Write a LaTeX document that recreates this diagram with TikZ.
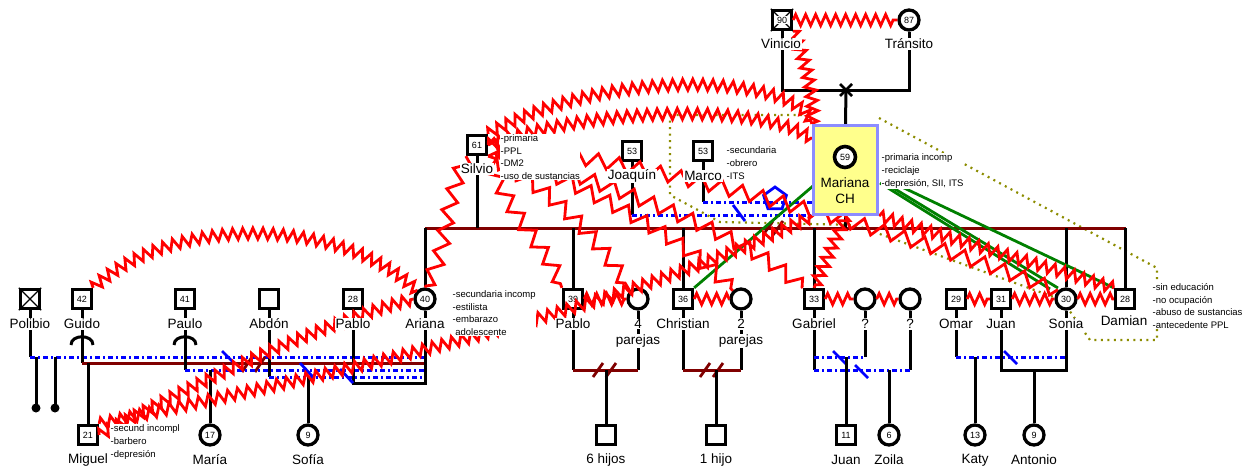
\documentclass[tikz,border=0pt]{standalone}
\usepackage{fontspec}
\setmainfont{Liberation Sans}
\usetikzlibrary{decorations.pathmorphing,shapes.geometric}
\definecolor{marL}{HTML}{800000}
\definecolor{yelF}{HTML}{FFFF8C}
\definecolor{lavB}{HTML}{8C8CFF}
\definecolor{oliD}{HTML}{8C8C00}
\definecolor{grnL}{HTML}{008000}
\pgfdeclarelayer{lines}\pgfdeclarelayer{zig}\pgfdeclarelayer{box}\pgfdeclarelayer{top}
\pgfsetlayers{lines,main,zig,box,top}
\begin{document}
\begin{tikzpicture}[x=1pt,y=-1pt,
  male/.style={draw,line width=3.3pt,minimum size=19pt,inner sep=0pt,fill=white,font=\fontsize{9}{9}\selectfont},
  female/.style={circle,draw,line width=3.3pt,minimum size=20pt,inner sep=0pt,fill=white,font=\fontsize{9}{9}\selectfont},
  lbl/.style={fill=white,inner sep=0.8pt,font=\fontsize{13.5}{14}\selectfont},
  note/.style={fill=white,inner sep=0.5pt,font=\fontsize{9.5}{12.7}\selectfont,align=left,anchor=west},
  fam/.style={line width=3pt},
  marl/.style={marL,line width=3pt},
  sepl/.style={blue,line width=3pt,dash pattern=on 5pt off 3pt on 2pt off 3pt},
  bslash/.style={blue,line width=2.8pt},
  mslash/.style={marL,line width=2.8pt},
  zz/.style={red,line width=2.8pt,decorate,decoration={zigzag,segment length=10pt,amplitude=5.5pt}},
  zw/.style={red,line width=2.8pt,decorate,decoration={zigzag,segment length=21pt,amplitude=7pt}},
  grn/.style={grnL,line width=2.8pt},
  hh/.style={oliD,line width=2.2pt,dash pattern=on 2pt off 4.5pt},
]
\useasboundingbox (0,0) rectangle (1259,472);
% ---------- persons ----------
\node[male] (vinicio) at (782,20) {};
\draw[line width=1.2pt] (vinicio.north west)--(vinicio.south east) (vinicio.north east)--(vinicio.south west);
\node[fill=white,inner sep=1pt,font=\fontsize{9}{9}\selectfont] (vinnum) at (vinicio) {90};
\node[female] (transito) at (909,20) {87};
\node[male] (silvio) at (477,145) {61};
\node[male] (joaquin) at (632,151) {53};
\node[male] (marco) at (703,151) {53};
\node[male] (polibio) at (30,299) {};
\draw[line width=1.2pt] (polibio.north west)--(polibio.south east) (polibio.north east)--(polibio.south west);
\node[male] (guido) at (82,299) {42};
\node[male] (paulo) at (185,299) {41};
\node[male] (abdon) at (269,299) {};
\node[male] (pablo28) at (353,299) {28};
\node[female] (ariana) at (425,299) {40};
\node[male] (pablo39) at (573,299) {39};
\node[female] (par4) at (638,299) {};
\node[male] (christian) at (683,299) {36};
\node[female] (par2) at (741,299) {};
\node[male] (gabriel) at (814,299) {33};
\node[female] (q1) at (865,299) {};
\node[female] (q2) at (910,299) {};
\node[male] (omar) at (956,299) {29};
\node[male] (juan31) at (1001,299) {31};
\node[female] (sonia) at (1066,299) {30};
\node[male] (damian) at (1125,299) {28};
\node[male] (miguel) at (88,435) {21};
\node[female] (maria) at (210,435) {17};
\node[female] (sofia) at (308,435) {9};
\node[male] (hijos6) at (606,435) {};
\node[male] (hijo1) at (716,435) {};
\node[male] (juan11) at (846,435) {11};
\node[female] (zoila) at (889,435) {6};
\node[female] (katy) at (975,435) {13};
\node[female] (antonio) at (1034,435) {9};
% ---------- Mariana box ----------
\begin{pgfonlayer}{box}
\node[draw=lavB,fill=yelF,line width=3.2pt,minimum width=64pt,minimum height=89pt] (mariana) at (845.5,170) {};
\node[female,minimum size=21pt,line width=3.6pt] (mar59) at (845,157) {59};
\node[font=\fontsize{13.5}{16}\selectfont,align=center] (marname) at (845,191) {Mariana\\CH};
\end{pgfonlayer}
% ---------- lines ----------
\begin{pgfonlayer}{lines}
\draw[hh] (670,115) -- (812,115) (879,118) -- (1157,268) -- (1157,340) -- (1090,340) -- (1062,300) -- (855,225) -- (720,222) -- (670,195) -- (670,115);
\coordinate (cross) at (846,90);
\draw[fam] (vinicio.south) |- (cross) -| (transito.south);
\draw[fam] (cross) -- (mariana.north);
\draw[line width=2.6pt] (840,84) -- (852,96) (840,96) -- (852,84);
% children line of Mariana
\coordinate (kl) at (425,228);
\coordinate (kr) at (1126,228);
\draw[marl] (kl) -- (kr);
\draw[fam] (ariana.north) -- (ariana.north |- kl);
\draw[fam] (silvio.south) -- (silvio.south |- kl);
\draw[fam] (pablo39.north) -- (pablo39.north |- kl);
\draw[fam] (christian.north) -- (christian.north |- kl);
\draw[fam] (gabriel.north) -- (gabriel.north |- kl);
\draw[fam] (mariana.south) -- (mariana.south |- kl);
\draw[fam] (sonia.north) -- (sonia.north |- kl);
\draw[fam] (damian.north) -- (damian.north |- kl);
\draw[mslash] (763,235) -- (773,221) (773,235) -- (783,221);
% partners Joaquin / Marco
\coordinate (jq) at (632,215);
\coordinate (mq) at (703,202);
\draw[fam] (joaquin.south) -- (jq);
\draw[fam] (marco.south) -- (mq);
\draw[sepl] (jq) -- (jq -| mariana.west);
\draw[sepl] (mq) -- (mq -| mariana.west);
\draw[bslash] (733,205) -- (745,221);
\node[regular polygon,regular polygon sides=5,draw=blue,line width=2.8pt,minimum size=24pt,inner sep=0pt] (penta) at (775,199) {};
% left group
\coordinate (lp) at (30,357);
\coordinate (lg) at (82,363);
\coordinate (lpa) at (185,370);
\coordinate (lab) at (269,377);
\coordinate (lpb) at (353,383);
\draw[fam] (polibio.south) -- (lp);
\draw[sepl] (lp) -- (lp -| ariana);
\coordinate (d1) at (36,408);
\coordinate (d2) at (55,408);
\draw[fam] (d1 |- lp) -- (d1);
\draw[fam] (d2 |- lp) -- (d2);
\fill (d1) circle (4.5pt) (d2) circle (4.5pt);
\draw[fam] (guido.south) -- (lg);
\draw[marl] (lg) -- (lg -| ariana);
\draw[fam] (miguel.north |- lg) -- (miguel.north);
\draw[mslash] (242,372) -- (252,357) (255,372) -- (265,357);
\draw[fam] (paulo.south) -- (lpa);
\draw[sepl] (lpa) -- (lpa -| ariana);
\draw[fam] (maria.north |- lpa) -- (maria.north);
\draw[fam] (abdon.south) -- (lab);
\draw[sepl] (lab) -- (lab -| ariana);
\draw[fam] (sofia.north |- lab) -- (sofia.north);
\draw[fam] (pablo28.south) -- (lpb) -| (ariana.south);
\draw[bslash] (222,351) -- (235,364) (300,363) -- (313,377) (340,369) -- (353,383);
\draw[fam] (71,345) .. controls (71,334) and (93,334) .. (93,345);
\draw[fam] (174,345) .. controls (174,334) and (196,334) .. (196,345);
% middle group
\coordinate (l39) at (573,370);
\coordinate (l36) at (683,370);
\draw[fam] (pablo39.south) -- (l39);
\draw[fam] (par4.south) -- (par4.south |- l39);
\draw[marl] (l39) -- (l39 -| par4);
\draw[mslash] (593,377) -- (603,363) (606,377) -- (616,363);
\draw[fam] (hijos6.north |- l39) -- (hijos6.north);
\draw[fam] (christian.south) -- (l36);
\draw[fam] (par2.south) -- (par2.south |- l36);
\draw[marl] (l36) -- (l36 -| par2);
\draw[mslash] (700,377) -- (710,363) (713,377) -- (723,363);
\draw[fam] (hijo1.north |- l36) -- (hijo1.north);
% right group
\coordinate (lga) at (814,357);
\coordinate (lgb) at (814,370);
\coordinate (lom) at (956,357);
\coordinate (lju) at (1001,370);
\draw[fam] (gabriel.south) -- (lgb);
\draw[fam] (q1.south) -- (q1.south |- lga);
\draw[fam] (q2.south) -- (q2.south |- lgb);
\draw[sepl] (lga) -- (lga -| q1);
\draw[sepl] (lgb) -- (lgb -| q2);
\draw[bslash] (833,351) -- (846,364) (855,365) -- (868,378);
\draw[fam] (juan11.north |- lga) -- (juan11.north);
\draw[fam] (zoila.north |- lgb) -- (zoila.north);
\draw[fam] (omar.south) -- (lom);
\draw[sepl] (lom) -- (lom -| sonia);
\draw[fam] (katy.north |- lom) -- (katy.north);
\draw[fam] (juan31.south) -- (lju) -| (sonia.south);
\draw[bslash] (1004,351) -- (1017,364);
\draw[fam] (antonio.north |- lju) -- (antonio.north);
% green
\draw[grn] (813,186) -- (christian.north east);
\draw[grn] (880,183) -- (1050,289);
\draw[grn] (890,186) -- (1058,288);
\draw[grn] (902,187) -- (damian.north west);
\end{pgfonlayer}
% ---------- conflict zigzags ----------
\begin{pgfonlayer}{zig}
\draw[zz] (vinicio.east) -- (transito.west);
\draw[zz] (vinicio.south east) .. controls (805,60) and (815,95) .. (mariana.north west);
\draw[zz] (guido.north east) .. controls (170,215) and (340,215) .. (ariana.north west);
\draw[zz] (miguel.east) .. controls (200,380) and (330,320) .. (ariana.west);
\draw[zz] (miguel.north east) .. controls (300,380) and (600,320) .. (mariana.south west);
\draw[zz] (silvio.north east) .. controls (610,65) and (800,75) .. (mariana.north west);
\draw[zz] (silvio.east) .. controls (580,110) and (760,100) .. ([yshift=-15pt]mariana.north west);
\draw[zw] (silvio.south west) .. controls (440,215) and (450,250) .. (ariana.north);
\draw[zw] (silvio.south east) .. controls (510,220) and (550,250) .. (pablo39.north west);
\draw[zw] (silvio.south east) .. controls (560,195) and (600,240) .. (par4.north west);
\draw[zw] (silvio.east) .. controls (600,195) and (690,240) .. (par2.north west);
\draw[zw] (silvio.east) .. controls (620,190) and (740,230) .. (gabriel.north west);
\draw[zw] (silvio.east) .. controls (650,160) and (900,230) .. (sonia.north west);
\draw[zz] (mariana.south east) -- (damian.north west);
\draw[zz] (mariana.south) -- (gabriel.north);
\draw[zz] (pablo39.east) -- (par4.west);
\draw[zz] (christian.east) -- (par2.west);
\draw[zz] (gabriel.east) -- (q1.west);
\draw[zz] (q1.east) -- (q2.west);
\draw[zz] (omar.east) -- (juan31.west);
\draw[zz] (juan31.east) -- (sonia.west);
\draw[zz] (sonia.east) -- (damian.west);
\end{pgfonlayer}
% ---------- labels ----------
\begin{pgfonlayer}{top}
\node[lbl] (n-vin) at (781,44) {Vinicio};
\node[lbl] (n-tra) at (909,44) {Tránsito};
\node[lbl] (n-sil) at (477,169) {Silvio};
\node[lbl] (n-joa) at (632,176) {Joaquín};
\node[lbl] (n-mar) at (703,176) {Marco};
\node[lbl] (n-pol) at (30,324) {Polibio};
\node[lbl] (n-gui) at (82,324) {Guido};
\node[lbl] (n-pau) at (185,324) {Paulo};
\node[lbl] (n-abd) at (269,324) {Abdón};
\node[lbl] (n-pa28) at (353,324) {Pablo};
\node[lbl] (n-ari) at (425,324) {Ariana};
\node[lbl] (n-pa39) at (573,324) {Pablo};
\node[lbl] (n-p4a) at (638,324) {4};
\node[lbl] (n-p4b) at (638,341) {parejas};
\node[lbl] (n-chr) at (683,324) {Christian};
\node[lbl] (n-p2a) at (741,324) {2};
\node[lbl] (n-p2b) at (741,341) {parejas};
\node[lbl] (n-gab) at (814,324) {Gabriel};
\node[lbl] (n-q1) at (865,324) {?};
\node[lbl] (n-q2) at (910,324) {?};
\node[lbl] (n-oma) at (956,324) {Omar};
\node[lbl] (n-jua) at (1001,324) {Juan};
\node[lbl] (n-son) at (1066,324) {Sonia};
\node[lbl] (n-dam) at (1124,321) {Damian};
\node[lbl] (n-mig) at (88,460) {Miguel};
\node[lbl] (n-mari) at (210,460) {María};
\node[lbl] (n-sof) at (308,460) {Sofía};
\node[lbl] (n-h6) at (606,460) {6 hijos};
\node[lbl] (n-h1) at (716,460) {1 hijo};
\node[lbl] (n-j11) at (846,460) {Juan};
\node[lbl] (n-zoi) at (889,460) {Zoila};
\node[lbl] (n-kat) at (975,460) {Katy};
\node[lbl] (n-ant) at (1034,460) {Antonio};
\node[note] (t-sil) at (500,157) {-primaria\\-PPL\\-DM2\\-uso de sustancias};
\node[note] (t-mar) at (726,163) {-secundaria\\-obrero\\-ITS};
\node[note] (t-mari) at (881,171) {-primaria incomp\\-reciclaje\\-depresión, SII, ITS};
\node[note] (t-ari) at (452,313) {-secundaria incomp\\-estilista\\-embarazo\\\ adolescente};
\node[note] (t-dam) at (1152,306) {-sin educación\\-no ocupación\\-abuso de sustancias\\-antecedente PPL};
\node[note] (t-mig) at (110,442) {-secund incompl\\-barbero\\-depresión};
\end{pgfonlayer}
\end{tikzpicture}
\end{document}
